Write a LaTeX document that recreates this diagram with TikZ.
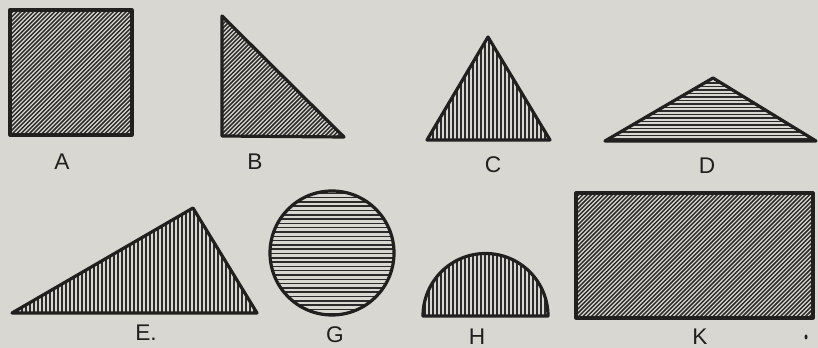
\documentclass[tikz,border=0pt]{standalone}
\usepackage{fontspec}
\setmainfont{Liberation Sans}
\definecolor{paper}{RGB}{217,215,209}
\definecolor{ink}{RGB}{34,32,30}
\definecolor{hatchink}{RGB}{45,43,41}
\begin{document}
\begin{tikzpicture}[x=0.75pt,y=-0.75pt,
  outline/.style={draw=ink,line width=2.4pt,line join=round},
  hatch/.style={draw=hatchink,line width=1.1pt},
  lbl/.style={inner sep=0pt,text=ink,font=\fontsize{17}{20}\selectfont}]
\fill[paper] (0,0) rectangle (818,348);
\useasboundingbox (0,0) rectangle (818,348);
% A square
\begin{scope}
\clip (10,10) rectangle (132,135);
\foreach \c in {16,20.2,...,272} \draw[hatch] (\c-140,140) -- (\c,0);
\end{scope}
\draw[outline] (10,10) rectangle (132,135);
% B right triangle
\begin{scope}
\clip (222,16) -- (222,136) -- (344,137) -- cycle;
\foreach \c in {230,234.2,...,485} \draw[hatch] (\c-140,140) -- (\c,0);
\end{scope}
\draw[outline] (222,16) -- (222,136) -- (344,137) -- cycle;
% C triangle vertical
\begin{scope}
\clip (488,37) -- (427,140) -- (550,140) -- cycle;
\foreach \x in {425,429,...,552} \draw[hatch] (\x,30) -- (\x,145);
\end{scope}
\draw[outline] (488,37) -- (427,140) -- (550,140) -- cycle;
% D flat triangle horizontal
\begin{scope}
\clip (713,78) -- (605,141) -- (816,141) -- cycle;
\foreach \y in {76,79.5,...,143} \draw[hatch] (600,\y) -- (820,\y);
\end{scope}
\draw[outline] (713,78) -- (605,141) -- (816,141) -- cycle;
% E scalene triangle vertical
\begin{scope}
\clip (12,313) -- (193,208) -- (257,313) -- cycle;
\foreach \x in {10,14,...,260} \draw[hatch] (\x,200) -- (\x,318);
\end{scope}
\draw[outline] (12,313) -- (193,208) -- (257,313) -- cycle;
% G circle horizontal
\begin{scope}
\clip (332,253) circle[radius=62];
\foreach \y in {189,193.3,...,318} \draw[hatch] (265,\y) -- (400,\y);
\end{scope}
\draw[outline] (332,253) circle[radius=62];
% H half disc vertical
\begin{scope}
\clip (423,316) arc[start angle=180,end angle=360,radius=62.5] -- cycle;
\foreach \x in {421,425,...,551} \draw[hatch] (\x,245) -- (\x,320);
\end{scope}
\draw[outline] (423,316) arc[start angle=180,end angle=360,radius=62.5] -- cycle;
% K rectangle diagonal
\begin{scope}
\clip (576,193) rectangle (813,318);
\foreach \c in {765,769.2,...,1135} \draw[hatch] (\c-325,325) -- (\c-185,185);
\end{scope}
\draw[outline] (576,193) rectangle (813,318);
% labels
\node[lbl] (la) at (62,162) {A};
\node[lbl] (lb) at (255,162) {B};
\node[lbl] (lc) at (493,165) {C};
\node[lbl] (ld) at (707,166) {D};
\node[lbl] (le) at (146,333) {E.};
\node[lbl] (lg) at (335,335) {G};
\node[lbl] (lh) at (477,337) {H};
\node[lbl] (lk) at (700,337) {K};
\fill[ink] (806,337) ellipse[x radius=1.5,y radius=2.5];
\end{tikzpicture}
\end{document}
